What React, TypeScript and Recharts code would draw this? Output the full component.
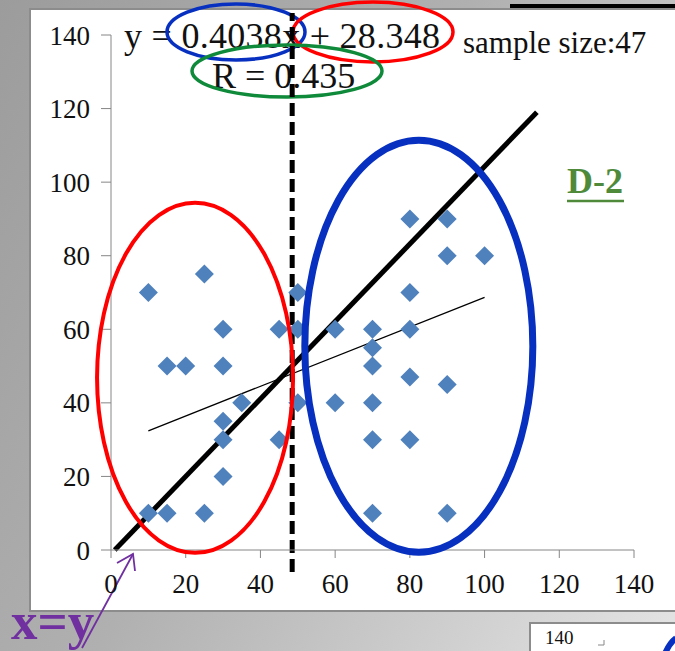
import React from "react";
import {
  ScatterChart,
  Scatter,
  XAxis,
  YAxis,
  ReferenceLine,
  ReferenceDot,
} from "recharts";

// ---- data ----
const pointX = [10, 25, 30, 45, 15, 20, 30, 35, 30, 30, 45, 30, 10, 15, 25, 50, 50, 50, 60, 70, 70, 70, 80, 80, 80, 90, 90, 100, 80, 90, 60, 70, 70, 80, 70, 90];
const pointY = [70, 75, 60, 60, 50, 50, 50, 40, 35, 30, 30, 20, 10, 10, 10, 70, 60, 40, 60, 60, 55, 50, 60, 70, 90, 90, 80, 80, 47, 45, 40, 40, 30, 30, 10, 10];
const axisTicks = [0, 20, 40, 60, 80, 100, 120, 140];
const trendLine = [
  { x: 10, y: 32.4 },
  { x: 100, y: 68.7 },
];
const identityLine = [
  { x: 1, y: 0 },
  { x: 114, y: 119 },
];
const splitLine = [
  { x: 48.5, y: -6 },
  { x: 48.5, y: 146 },
];
const lowGroupCenter = { x: 22.5, y: 46.8 };
const highGroupCenter = { x: 82.4, y: 55.4 };
const equationText = "y = 0.4038x + 28.348";
const rText = "R = 0.435";
const sampleText = "sample size:47";
const panelLabel = "D-2";
const identityLabel = "x=y";
const nextPanelTick = "140";

const points = pointX.map((x, i) => ({ x, y: pointY[i] }));

const SERIF = "'Liberation Serif', 'Times New Roman', serif";

const Diamond = (props: any) => {
  const { cx, cy } = props;
  if (cx == null || cy == null) return <g />;
  const r = 9.5;
  return (
    <polygon
      points={`${cx},${cy - r} ${cx + r},${cy} ${cx},${cy + r} ${cx - r},${cy}`}
      fill="#4F81BD"
    />
  );
};

const makeEllipse = (rx: number, ry: number, stroke: string, sw: number) => (p: any) =>
  (
    <ellipse cx={p.cx} cy={p.cy} rx={rx} ry={ry} fill="none" stroke={stroke} strokeWidth={sw} />
  );

export default function App() {
  const tickStyle = { fill: "#111", fontSize: 27, fontFamily: SERIF };
  return (
    <div
      style={{
        position: "absolute",
        left: 0,
        top: 0,
        width: 675,
        height: 651,
        overflow: "hidden",
        background: "linear-gradient(120deg, #9c9c9c 0%, #b0b0b0 45%, #e4e4e4 100%)",
      }}
    >
      {/* top black bar */}
      <div style={{ position: "absolute", left: 510, top: 4, width: 165, height: 4, background: "#000" }} />
      {/* main white panel */}
      <div
        style={{
          position: "absolute",
          left: 29,
          top: 8,
          width: 660,
          height: 604,
          background: "#fff",
          borderLeft: "2px solid #8c8c8c",
          borderTop: "2px solid #8c8c8c",
          borderBottom: "2px solid #8c8c8c",
          boxSizing: "border-box",
        }}
      />
      {/* second panel peeking at the bottom right */}
      <div
        style={{
          position: "absolute",
          left: 529,
          top: 622,
          width: 160,
          height: 40,
          background: "#fff",
          border: "2px solid #8c8c8c",
          boxSizing: "border-box",
        }}
      />
      <svg
        width={675}
        height={651}
        style={{ position: "absolute", left: 0, top: 0 }}
        fontFamily={SERIF}
      >
        <text x={545} y={644} fontSize={19} fill="#111">{nextPanelTick}</text>
        <path d="M598,645 L604,645 L604,640" fill="none" stroke="#888" strokeWidth={1} />
        <path d="M663,660 Q667,645 676,638" fill="none" stroke="#0730C0" strokeWidth={6} />

        <text x={124} y={48} fontSize={36} fill="#111" textLength={316} lengthAdjust="spacing">
          {equationText}
        </text>
        <text x={212} y={88} fontSize={36} fill="#111">{rText}</text>
        <text x={463} y={53} fontSize={31} fill="#111">{sampleText}</text>
        <ellipse cx={236} cy={32} rx={69} ry={28} fill="none" stroke="#0730C0" strokeWidth={3.5} />
        <ellipse cx={373} cy={32} rx={80} ry={30} fill="none" stroke="#FF0000" strokeWidth={3.5} />
        <ellipse cx={287} cy={71} rx={95} ry={26} fill="none" stroke="#0E8A3A" strokeWidth={3.5} />

        <text x={567} y={193} fontSize={36} fontWeight="bold" fill="#4F8A3B">{panelLabel}</text>
        <line x1={567} y1={201} x2={624} y2={201} stroke="#4F8A3B" strokeWidth={2.5} />

        <text x={11} y={639} fontSize={53} fontWeight="bold" fill="#7030A0">{identityLabel}</text>
        <line x1={82} y1={648} x2={133} y2={554} stroke="#7030A0" strokeWidth={1.8} />
        <polyline points="117,563 133,554 135,571" fill="none" stroke="#7030A0" strokeWidth={1.8} />
      </svg>
      <div style={{ position: "absolute", left: 0, top: 0 }}>
        <ScatterChart width={675} height={651} margin={{ top: 35, right: 41, bottom: 61, left: 0 }}>
          <XAxis
            type="number"
            dataKey="x"
            domain={[0, 140]}
            ticks={axisTicks}
            height={40}
            stroke="#868686"
            tick={tickStyle}
            tickSize={8}
            tickMargin={16}
            allowDataOverflow
          />
          <YAxis
            type="number"
            dataKey="y"
            domain={[0, 140]}
            ticks={axisTicks}
            width={111}
            stroke="#868686"
            tick={tickStyle}
            tickSize={10}
            tickMargin={11}
            allowDataOverflow
          />
          <Scatter data={points} fill="#4F81BD" shape={Diamond} isAnimationActive={false} />
          <ReferenceLine segment={trendLine} stroke="#000" strokeWidth={1.3} ifOverflow="visible" />
          <ReferenceDot
            x={lowGroupCenter.x}
            y={lowGroupCenter.y}
            ifOverflow="visible"
            shape={makeEllipse(98, 175, "#FF0000", 4)}
          />
          <ReferenceDot
            x={highGroupCenter.x}
            y={highGroupCenter.y}
            ifOverflow="visible"
            shape={makeEllipse(114, 206, "#0730C0", 7)}
          />
          <ReferenceLine segment={identityLine} stroke="#000" strokeWidth={5} ifOverflow="visible" />
          <ReferenceLine
            segment={splitLine}
            stroke="#000"
            strokeWidth={5}
            strokeDasharray="13 6"
            ifOverflow="visible"
          />
        </ScatterChart>
      </div>
    </div>
  );
}
